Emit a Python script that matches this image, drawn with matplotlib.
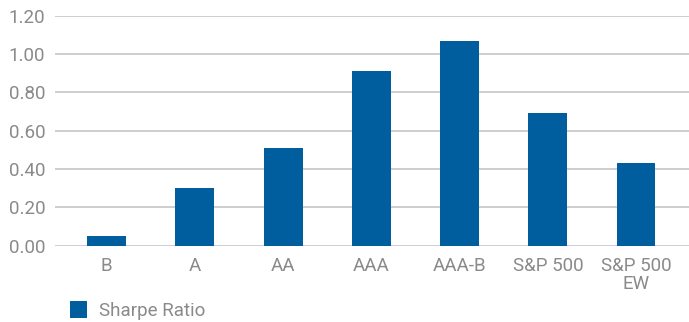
import matplotlib.pyplot as plt
import numpy as np

categories = ['B', 'A', 'AA', 'AAA', 'AAA-B', 'S&P 500', 'S&P 500\nEW']
sharpe = [0.05, 0.30, 0.51, 0.91, 1.07, 0.69, 0.43]
yticks = [0.0, 0.2, 0.4, 0.6, 0.8, 1.0, 1.2]

bar_color = '#005E9E'
text_color = '#8a8a8a'
grid_color = '#c6c6c6'

plt.rcParams['font.family'] = ['Roboto', 'Liberation Sans', 'DejaVu Sans']

fig = plt.figure(figsize=(6.89, 3.22), dpi=100)
ax = fig.add_axes([0.0798, 0.237, 0.9202, 0.714])

x = np.arange(len(categories))
bars = ax.bar(x, sharpe, width=0.44, color=bar_color, zorder=3, label='Sharpe Ratio')

ax.set_ylim(0, 1.2)
ax.set_xlim(-0.585, 6.6)
ax.set_yticks(yticks)
ax.set_yticklabels(['%.2f' % v for v in yticks])
ax.set_xticks(x)
ax.set_xticklabels(categories, linespacing=1.0)

ax.yaxis.grid(True, color=grid_color, linewidth=1.2, zorder=0)
ax.set_axisbelow(True)
for s in ax.spines.values():
    s.set_visible(False)

ax.tick_params(axis='both', length=0, labelsize=13.5, colors=text_color)
ax.tick_params(axis='y', pad=7)
ax.tick_params(axis='x', pad=8)

# legend sits in the bottom strip, kept just inside the figure edge
leg = fig.legend(handles=[bars], labels=['Sharpe Ratio'], loc='upper left',
                 bbox_to_anchor=(0.101, 0.064), frameon=False,
                 handlelength=0.95, handleheight=1.0, handletextpad=0.6,
                 borderpad=0, borderaxespad=0, fontsize=13.5)
for t in leg.get_texts():
    t.set_color(text_color)

plt.savefig('out.png', dpi=100)
plt.close()
